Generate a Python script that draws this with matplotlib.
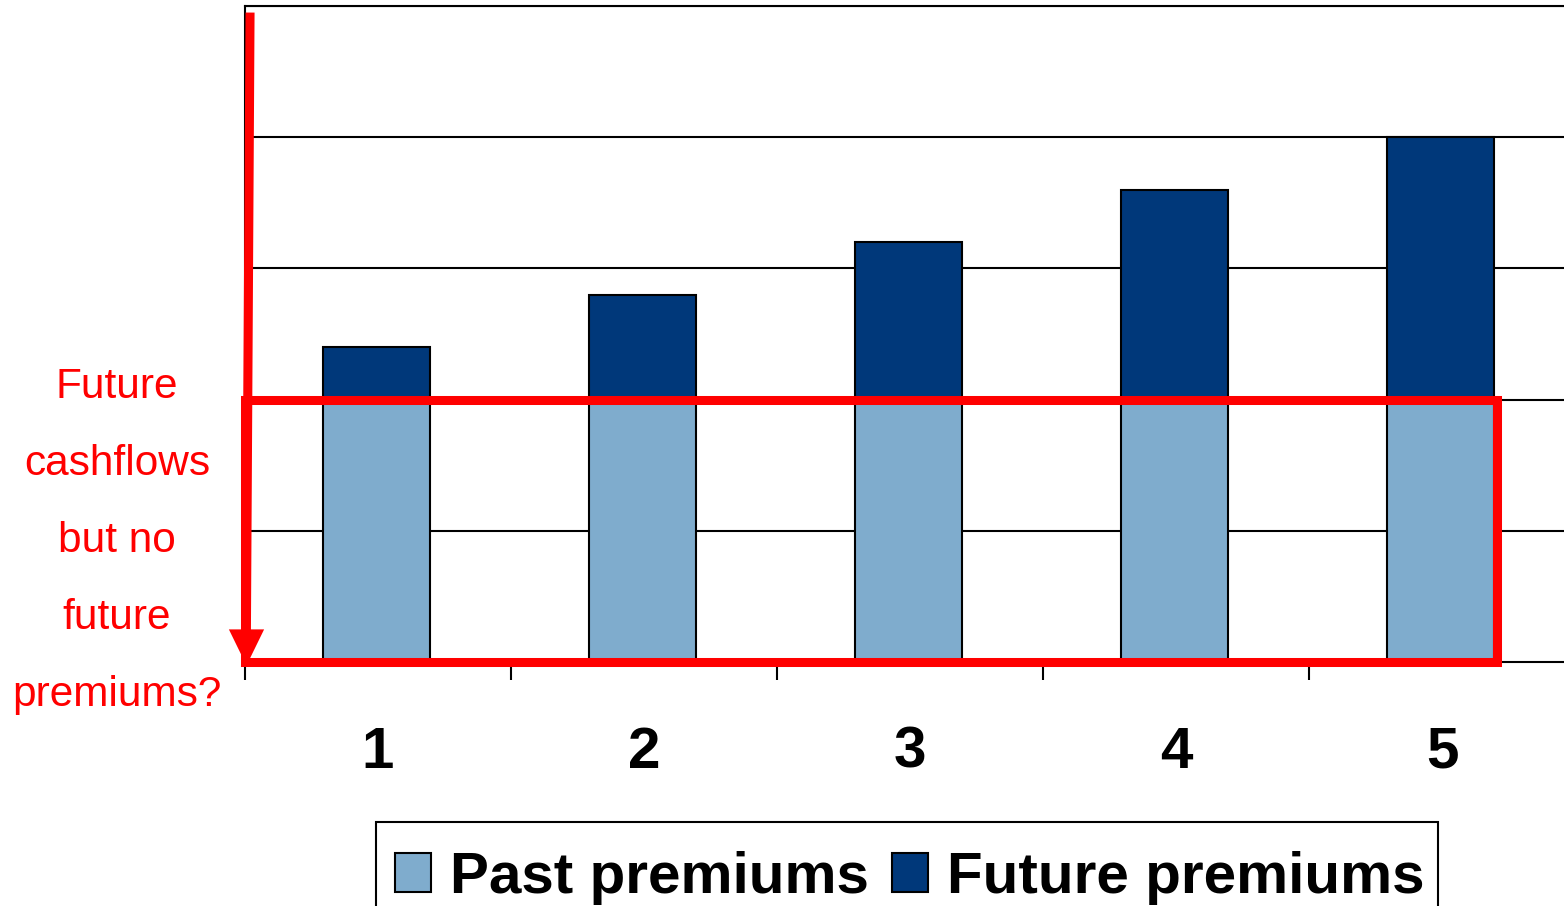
import matplotlib
matplotlib.use("Agg")
import matplotlib.pyplot as plt
from matplotlib.patches import Rectangle

# Data
years = [1, 2, 3, 4, 5]
year_labels = ["1", "2", "3", "4", "5"]
past_premiums = [2.0, 2.0, 2.0, 2.0, 2.0]
future_premiums = [0.4, 0.8, 1.2, 1.6, 2.0]
series_names = ["Past premiums", "Future premiums"]
note_lines = ["Future", "cashflows", "but no", "future", "premiums?"]

PAST_COLOR = "#7FACCD"
FUTURE_COLOR = "#00387A"
RED = "#FF0000"
FONT = "Liberation Sans"

W, H, DPI = 1564, 906, 100
fig = plt.figure(figsize=(W / DPI, H / DPI), dpi=DPI)
fig.patch.set_facecolor("white")

# Plot area runs a little past the right edge of the canvas
ax = fig.add_axes([245 / W, 1 - 662 / H, 1330 / W, 656 / H])
ax.set_xlim(0.5, 5.5)
ax.set_ylim(0, 5)

bar_w = 0.4
bar_x = [y - 0.006 for y in years]
ax.bar(bar_x, past_premiums, width=bar_w, color=PAST_COLOR,
       edgecolor="black", linewidth=1.5, zorder=3, label=series_names[0])
ax.bar(bar_x, future_premiums, width=bar_w, bottom=past_premiums,
       color=FUTURE_COLOR, edgecolor="black", linewidth=1.5, zorder=3,
       label=series_names[1])

# Horizontal grid
ax.set_yticks([1, 2, 3, 4, 5])
ax.yaxis.grid(True, color="black", linewidth=1.5)
ax.set_axisbelow(True)
ax.tick_params(axis="y", length=0, labelleft=False)

# Category labels at bar centres, tick marks between categories
ax.set_xticks(years)
ax.set_xticklabels(year_labels)
ax.set_xticks([b + 0.5 for b in [0] + years[:-1]], minor=True)
ax.tick_params(axis="x", which="major", length=0, pad=46)
ax.tick_params(axis="x", which="minor", length=13, width=1.5,
               direction="out", color="black")
for lab in ax.get_xticklabels():
    lab.set_fontfamily(FONT)
    lab.set_fontweight("bold")
    lab.set_fontsize(42)

for side in ("left", "bottom", "top"):
    ax.spines[side].set_color("black")
    ax.spines[side].set_linewidth(1.5)
ax.spines["right"].set_visible(False)

# Red box around the past-premium band
rect_right = years[-1] + bar_w / 2 + 0.008
ax.add_patch(Rectangle((0.5, 0), rect_right - 0.5, past_premiums[0],
                       fill=False, edgecolor=RED, linewidth=6.5,
                       zorder=6, clip_on=False, joinstyle="miter"))

# Red downward arrow along the vertical axis: shaft plus a sharp head
arrow_top = (0.519, 4.95)
arrow_tip = (0.505, -0.02)
ax.plot([arrow_top[0], arrow_tip[0]], [arrow_top[1], arrow_tip[1] + 0.15],
        color=RED, lw=6.5, solid_capstyle="butt", zorder=7, clip_on=False)
head = [(0, 0), (-1, 2.05), (1, 2.05)]
ax.plot([arrow_tip[0]], [arrow_tip[1]], linestyle="none", marker=head,
        markersize=52, color=RED, markeredgewidth=0, zorder=7, clip_on=False)

# Side note in red
for i, line in enumerate(note_lines):
    fig.text(117 / W, 1 - (398 + 77 * i) / H, line, ha="center",
             va="baseline", color=RED, fontsize=30.5, fontfamily=FONT)

# Legend: frame drawn separately, entries placed inside it
fig.patches.append(Rectangle((376 / W, -0.05), (1438 - 376) / W,
                             1 - 822 / H + 0.05, transform=fig.transFigure,
                             fill=False, edgecolor="black", linewidth=1.5,
                             figure=fig))
leg = ax.legend(loc="upper left", bbox_to_anchor=(395 / W, 1 - 851 / H),
                bbox_transform=fig.transFigure, ncol=2, frameon=False,
                borderaxespad=0, borderpad=0,
                handlelength=0.61, handleheight=0.63, handletextpad=0.33,
                columnspacing=0.40,
                prop=dict(family=FONT, weight="bold", size=42))
for h in leg.legend_handles:
    h.set_edgecolor("black")
    h.set_linewidth(1.5)

fig.savefig("out.png", dpi=DPI, facecolor="white")
